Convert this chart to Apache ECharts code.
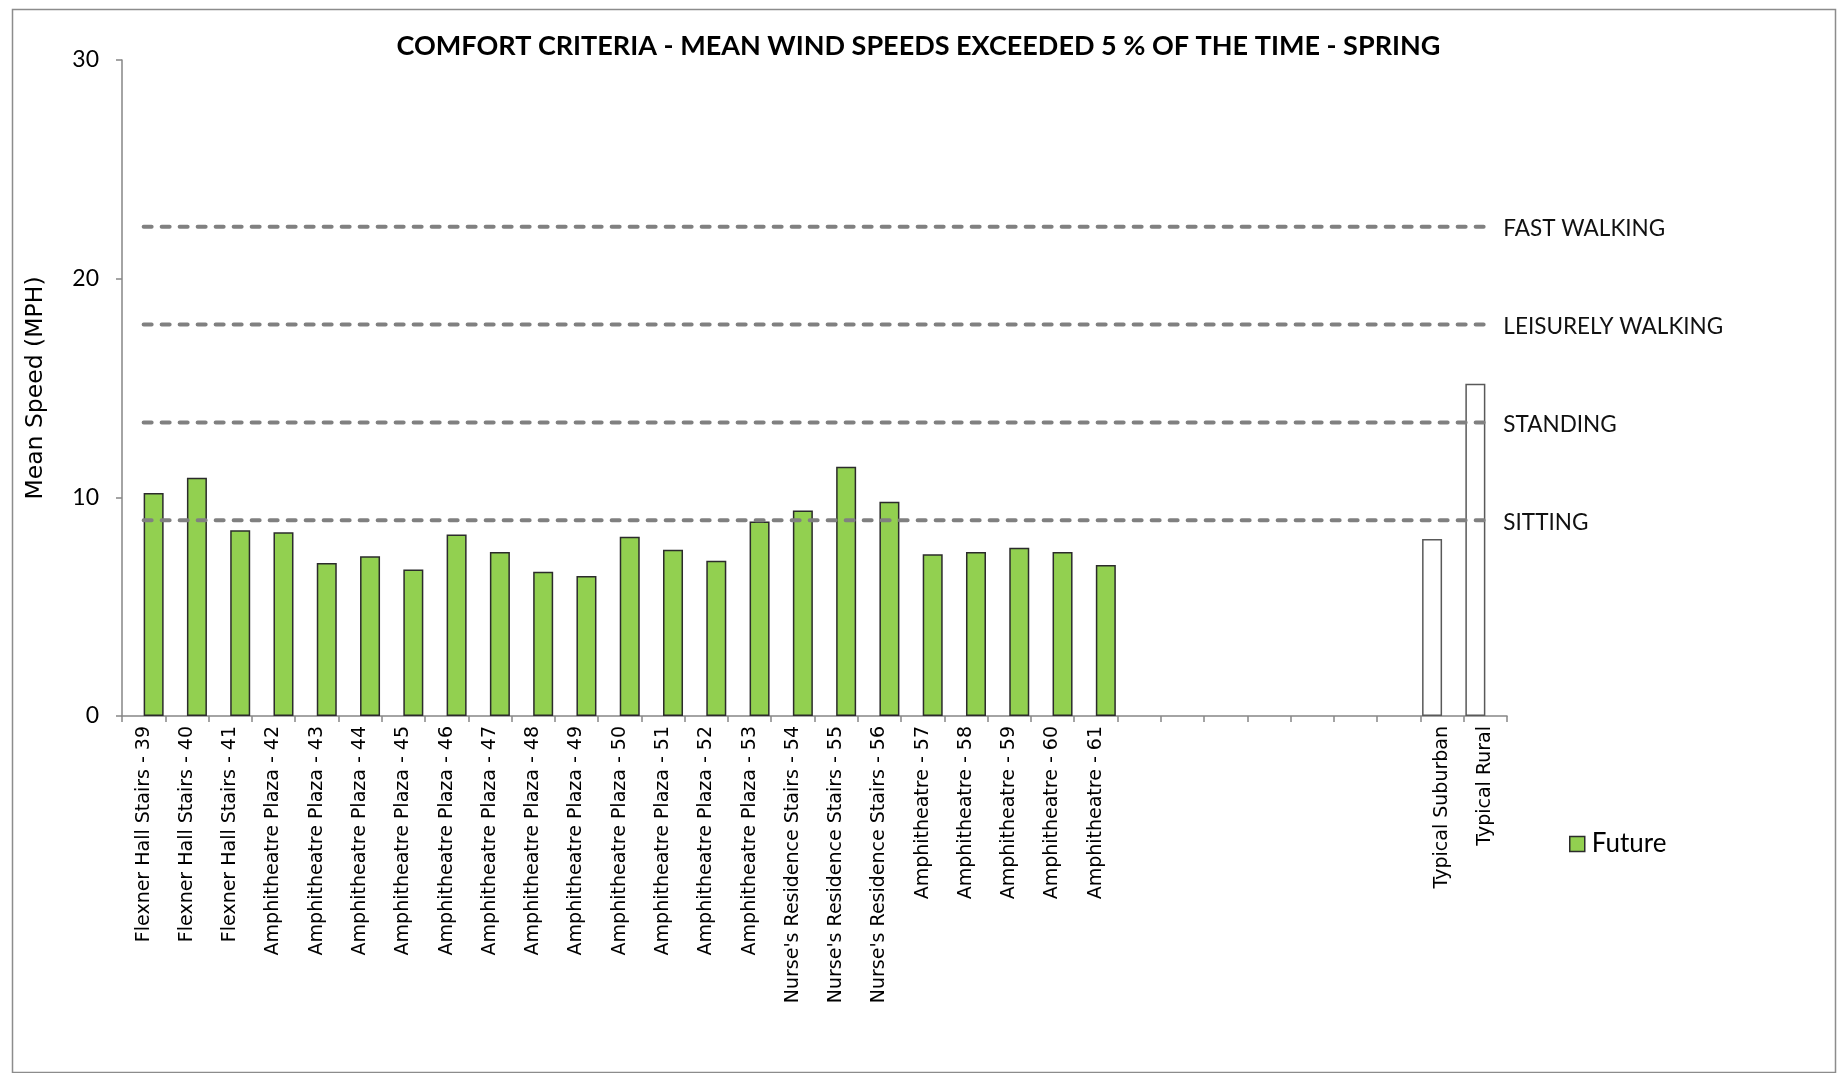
<!DOCTYPE html>
<html>
<head>
<meta charset="utf-8">
<script src="https://cdn.jsdelivr.net/npm/echarts@6/dist/echarts.min.js"></script>
<style>
  html, body { margin: 0; padding: 0; background: #fff; }
  #chart { width: 1837px; height: 1073px; }
</style>
</head>
<body>
<div id="chart"></div>
<script>
// Measurement locations (x-axis categories); blank slots keep the spacing before the reference sites
const categories = [
  'Flexner Hall Stairs - 39', 'Flexner Hall Stairs - 40', 'Flexner Hall Stairs - 41',
  'Amphitheatre Plaza - 42', 'Amphitheatre Plaza - 43', 'Amphitheatre Plaza - 44',
  'Amphitheatre Plaza - 45', 'Amphitheatre Plaza - 46', 'Amphitheatre Plaza - 47',
  'Amphitheatre Plaza - 48', 'Amphitheatre Plaza - 49', 'Amphitheatre Plaza - 50',
  'Amphitheatre Plaza - 51', 'Amphitheatre Plaza - 52', 'Amphitheatre Plaza - 53',
  "Nurse's Residence Stairs - 54", "Nurse's Residence Stairs - 55", "Nurse's Residence Stairs - 56",
  'Amphitheatre - 57', 'Amphitheatre - 58', 'Amphitheatre - 59', 'Amphitheatre - 60', 'Amphitheatre - 61',
  '', '', '', '', '', '', '',
  'Typical Suburban', 'Typical Rural'
];

// Future condition, mean wind speed exceeded 5% of the time (mph)
const futureValues = [
  10.2, 10.9, 8.5, 8.4, 7.0, 7.3, 6.7, 8.3, 7.5, 6.6, 6.4, 8.2, 7.6, 7.1, 8.9,
  9.4, 11.4, 9.8, 7.4, 7.5, 7.7, 7.5, 6.9
];

// Typical suburban / rural reference speeds (mph)
const typicalValues = { 'Typical Suburban': 8.1, 'Typical Rural': 15.2 };

// Comfort criteria thresholds (mph)
const criteriaNames = ['SITTING', 'STANDING', 'LEISURELY WALKING', 'FAST WALKING'];
const criteriaValues = [8.95, 13.42, 17.9, 22.37];

// Y axis ticks
const yMin = 0, yMax = 30, yStep = 10;

const futureSeriesData = categories.map((c, i) => i < futureValues.length ? futureValues[i] : '-');
const typicalSeriesData = categories.map(c => (c in typicalValues) ? typicalValues[c] : '-');

const axisGray = '#868686';
const calibriLike = 'Lato, "Open Sans", sans-serif';
const verdanaLike = '"DejaVu Sans", Verdana, sans-serif';

const criteriaSeries = criteriaNames.map((name, k) => ({
  name: name,
  type: 'line',
  data: categories.map(() => criteriaValues[k]),
  symbol: 'none',
  silent: true,
  z: 3,
  lineStyle: { color: '#808080', width: 4, type: [8, 10], cap: 'round' },
  endLabel: {
    show: true,
    formatter: '{a}',
    distance: 18,
    offset: [0, 2],
    fontFamily: calibriLike,
    fontSize: 22.5,
    color: '#111'
  }
}));

const chart = echarts.init(document.getElementById('chart'), null, { renderer: 'canvas' });
chart.setOption({
  backgroundColor: '#fff',
  animation: false,
  title: {
    text: 'COMFORT CRITERIA - MEAN WIND SPEEDS EXCEEDED 5 % OF THE TIME - SPRING',
    left: 'center',
    top: 28,
    textStyle: { fontFamily: calibriLike, fontWeight: 'bold', fontSize: 27, color: '#000' }
  },
  graphic: [{
    type: 'rect',
    left: 10, top: 7,
    shape: { width: 1823, height: 1063 },
    style: { fill: 'none', stroke: '#8c8c8c', lineWidth: 1.5 },
    silent: true
  }],
  legend: {
    data: ['Future'],
    left: 1564,
    top: 826,
    icon: 'rect',
    itemWidth: 15,
    itemHeight: 15,
    itemGap: 6,
    itemStyle: { borderColor: '#2b2b2b', borderWidth: 1.5 },
    textStyle: { fontFamily: calibriLike, fontSize: 26, color: '#000', padding: [0, 0, 0, 2] }
  },
  grid: { left: 122, right: 330, top: 60, bottom: 357, containLabel: false },
  xAxis: {
    type: 'category',
    data: categories,
    boundaryGap: true,
    axisLine: { lineStyle: { color: axisGray, width: 1.5 } },
    axisTick: { show: true, interval: 0, length: 6, lineStyle: { color: axisGray, width: 1.5 } },
    axisLabel: {
      interval: 0,
      rotate: 90,
      margin: 10,
      fontFamily: verdanaLike,
      fontSize: 19,
      color: '#000'
    }
  },
  yAxis: {
    type: 'value',
    min: yMin, max: yMax, interval: yStep,
    name: 'Mean Speed (MPH)',
    nameLocation: 'middle',
    nameRotate: 90,
    nameGap: 74,
    nameTextStyle: { fontFamily: verdanaLike, fontSize: 23.5, color: '#000' },
    axisLine: { show: true, lineStyle: { color: axisGray, width: 1.5 } },
    axisTick: { show: true, length: 6, lineStyle: { color: axisGray, width: 1.5 } },
    splitLine: { show: false },
    axisLabel: { margin: 23, fontFamily: calibriLike, fontSize: 23, color: '#000' }
  },
  series: [
    {
      name: 'Typical',
      type: 'bar',
      data: typicalSeriesData,
      barWidth: 20,
      barGap: '0%',
      itemStyle: { color: '#fff', borderColor: '#595959', borderWidth: 1.5 },
      z: 2
    },
    {
      name: 'Future',
      type: 'bar',
      data: futureSeriesData,
      barWidth: 20,
      barGap: '0%',
      itemStyle: { color: '#92D050', borderColor: '#2b2b2b', borderWidth: 1.5 },
      z: 2
    }
  ].concat(criteriaSeries)
});
</script>
</body>
</html>
